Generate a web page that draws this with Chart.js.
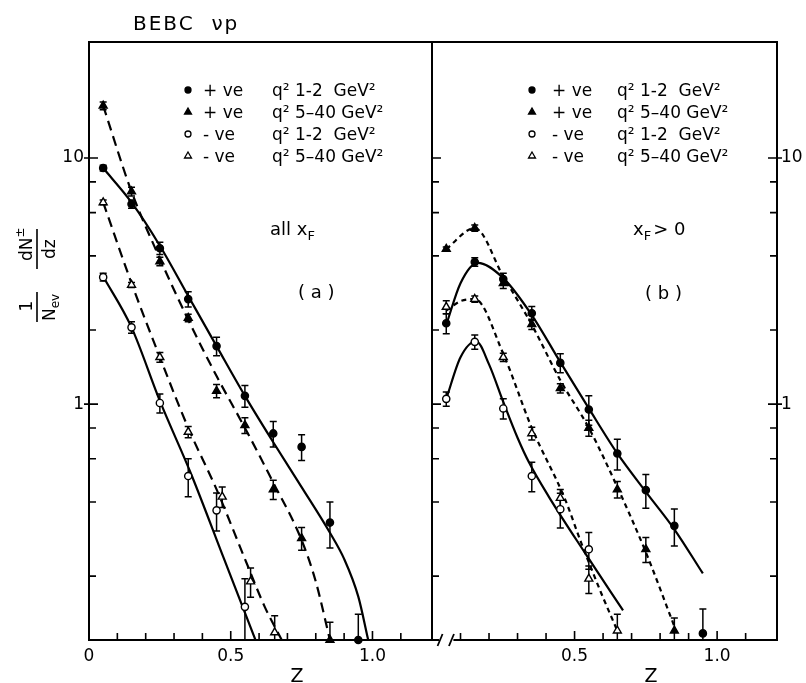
<!DOCTYPE html>
<html>
<head>
<meta charset="utf-8">
<script src="https://cdn.jsdelivr.net/npm/chart.js@4.4.0/dist/chart.umd.min.js"></script>
<style>
  body { margin: 0; background: #fff; }
  #quadro { position: relative; width: 806px; height: 683px; }
  #quadro canvas { position: absolute; left: 0; top: 0; }
</style>
</head>
<body>
<div id="quadro">
  <canvas id="painelA" width="806" height="683"></canvas>
  <canvas id="painelB" width="806" height="683"></canvas>
</div>
<script>
// Escalas e marcas dos eixos
const yMin = 0.11;
const yMax = 29.6;
const zMax = 1.21;
const yTicksRotulo = [1, 10];
const yTicksMenores = [0.2, 0.4, 0.6, 0.8, 2, 4, 6, 8];
const zTicksMenores = [0.1, 0.2, 0.3, 0.4, 0.6, 0.7, 0.8, 0.9, 1.1];
const zTicksRotuloA = [0, 0.5, 1.0];
const zTicksRotuloB = [0.5, 1.0];

// Legenda
const legCarga = ['+ ve', '+ ve', '- ve', '- ve'];
const legQ2 = ['q² 1-2  GeV²', 'q² 5–40 GeV²', 'q² 1-2  GeV²', 'q² 5–40 GeV²'];

// (a) todos os xF  -  + ve q² 1-2 (círculo cheio)
const aPosBaixoZ = [0.05, 0.15, 0.25, 0.35, 0.45, 0.55, 0.65, 0.75, 0.85, 0.95];
const aPosBaixo = [9.1, 6.5, 4.3, 2.67, 1.72, 1.08, 0.76, 0.67, 0.33, 0.11];
const aPosBaixoErr = [0.25, 0.25, 0.25, 0.19, 0.15, 0.11, 0.09, 0.08, 0.07, 0.03];
// + ve q² 5-40 (triângulo cheio)
const aPosAltoZ = [0.05, 0.15, 0.25, 0.35, 0.45, 0.55, 0.65, 0.75, 0.85];
const aPosAlto = [16.3, 7.3, 3.8, 2.24, 1.13, 0.82, 0.45, 0.285, 0.11];
const aPosAltoErr = [0.6, 0.3, 0.15, 0.08, 0.07, 0.06, 0.04, 0.03, 0.02];
// - ve q² 1-2 (círculo aberto)
const aNegBaixoZ = [0.05, 0.15, 0.25, 0.35, 0.45, 0.55];
const aNegBaixo = [3.28, 2.05, 1.01, 0.51, 0.37, 0.15];
const aNegBaixoErr = [0.12, 0.11, 0.09, 0.09, 0.065, 0.045];
// - ve q² 5-40 (triângulo aberto)
const aNegAltoZ = [0.05, 0.15, 0.25, 0.35, 0.47, 0.57, 0.655];
const aNegAlto = [6.6, 3.05, 1.55, 0.77, 0.42, 0.19, 0.118];
const aNegAltoErr = [0.15, 0.07, 0.07, 0.04, 0.04, 0.026, 0.02];

// curvas ajustadas (a)
const aPosBaixoCurvaZ = [0.05, 0.15, 0.25, 0.35, 0.45, 0.55, 0.65, 0.75, 0.85, 0.9, 0.95, 0.985];
const aPosBaixoCurva = [9.1, 6.6, 4.4, 2.75, 1.72, 1.08, 0.7, 0.46, 0.3, 0.235, 0.165, 0.11];
const aPosAltoCurvaZ = [0.05, 0.15, 0.25, 0.35, 0.45, 0.55, 0.65, 0.75, 0.8, 0.85];
const aPosAltoCurva = [16.3, 7.3, 3.9, 2.2, 1.3, 0.8, 0.48, 0.28, 0.19, 0.11];
const aNegBaixoCurvaZ = [0.05, 0.15, 0.25, 0.362, 0.475, 0.59];
const aNegBaixoCurva = [3.3, 2.05, 1.03, 0.514, 0.237, 0.108];
const aNegAltoCurvaZ = [0.05, 0.15, 0.25, 0.35, 0.45, 0.55, 0.62, 0.68];
const aNegAltoCurva = [6.6, 3.1, 1.55, 0.8, 0.45, 0.235, 0.15, 0.11];

// (b) xF > 0
const bPosBaixoZ = [0.05, 0.15, 0.25, 0.35, 0.45, 0.55, 0.65, 0.75, 0.85, 0.95];
const bPosBaixo = [2.13, 3.78, 3.22, 2.34, 1.47, 0.95, 0.63, 0.447, 0.32, 0.117];
const bPosBaixoErr = [0.2, 0.15, 0.18, 0.15, 0.13, 0.13, 0.09, 0.07, 0.055, 0.03];
const bPosAltoZ = [0.05, 0.15, 0.25, 0.35, 0.45, 0.55, 0.65, 0.75, 0.85];
const bPosAlto = [4.27, 5.19, 3.1, 2.11, 1.16, 0.8, 0.45, 0.257, 0.12];
const bPosAltoErr = [0.08, 0.15, 0.15, 0.1, 0.05, 0.06, 0.035, 0.03, 0.015];
const bNegBaixoZ = [0.05, 0.15, 0.25, 0.35, 0.45, 0.55];
const bNegBaixo = [1.05, 1.79, 0.96, 0.51, 0.374, 0.257];
const bNegBaixoErr = [0.07, 0.12, 0.09, 0.07, 0.06, 0.044];
const bNegAltoZ = [0.05, 0.15, 0.25, 0.35, 0.45, 0.55, 0.65];
const bNegAlto = [2.48, 2.67, 1.55, 0.76, 0.415, 0.195, 0.12];
const bNegAltoErr = [0.15, 0.08, 0.06, 0.045, 0.035, 0.025, 0.02];

// curvas ajustadas (b)
const bPosBaixoCurvaZ = [0.05, 0.1, 0.16, 0.25, 0.35, 0.45, 0.55, 0.65, 0.75, 0.85, 0.95];
const bPosBaixoCurva = [2.1, 3.1, 3.75, 3.25, 2.3, 1.48, 0.96, 0.63, 0.44, 0.31, 0.205];
const bPosAltoCurvaZ = [0.05, 0.15, 0.25, 0.35, 0.45, 0.55, 0.65, 0.75, 0.85];
const bPosAltoCurva = [4.27, 5.19, 3.3, 2.1, 1.25, 0.8, 0.46, 0.25, 0.125];
const bNegBaixoCurvaZ = [0.05, 0.1, 0.155, 0.2, 0.25, 0.3, 0.34, 0.41, 0.54, 0.67];
const bNegBaixoCurva = [1.05, 1.55, 1.8, 1.45, 1.02, 0.73, 0.58, 0.42, 0.245, 0.145];
const bNegAltoCurvaZ = [0.05, 0.1, 0.15, 0.25, 0.35, 0.465, 0.525, 0.594, 0.65];
const bNegAltoCurva = [2.4, 2.62, 2.67, 1.6, 0.8, 0.415, 0.27, 0.17, 0.12];

const fonte = '"DejaVu Sans", sans-serif';

const pontos = (zs, ys) => zs.map((z, i) => ({ x: z, y: ys[i] }));

const marcas = (zs, ys, erros, estilo, cheio) => ({
    data: pontos(zs, ys),
    yErr: erros,
    showLine: false,
    pointStyle: estilo,
    pointRadius: estilo === 'triangle' ? 4.6 : 3.6,
    pointBackgroundColor: cheio ? '#000' : '#fff',
    pointBorderColor: '#000',
    pointBorderWidth: 1.4,
    clip: false,
    order: 0
});

const curva = (zs, ys, traco) => ({
    data: pontos(zs, ys),
    showLine: true,
    pointRadius: 0,
    borderColor: '#000',
    borderWidth: 2.2,
    borderDash: traco,
    cubicInterpolationMode: 'monotone',
    order: 1
});

// desenha um símbolo da legenda
function desenhaMarca(ctx, estilo, cheio, x, y, r) {
    ctx.beginPath();
    if (estilo === 'circle') {
        ctx.arc(x, y, r, 0, Math.PI * 2);
    } else {
        ctx.moveTo(x, y - r);
        ctx.lineTo(x + r * 0.87, y + r * 0.5);
        ctx.lineTo(x - r * 0.87, y + r * 0.5);
        ctx.closePath();
    }
    ctx.fillStyle = cheio ? '#000' : '#fff';
    ctx.fill();
    ctx.lineWidth = 1.3;
    ctx.strokeStyle = '#000';
    ctx.stroke();
}

// texto em partes (para índices e expoentes)
function textoPartes(ctx, partes, x, y) {
    let cx = x;
    partes.forEach(p => {
        ctx.font = p.tam + 'px ' + fonte;
        ctx.fillText(p.t, cx, y + (p.dy || 0));
        cx += ctx.measureText(p.t).width + (p.esp || 0);
    });
}

const simbolos = [['circle', true], ['triangle', true], ['circle', false], ['triangle', false]];

const moldura = {
    id: 'moldura',
    beforeDatasetsDraw(chart) {
        const { ctx, chartArea: a, scales: { y } } = chart;
        ctx.save();
        ctx.strokeStyle = '#000';
        ctx.lineWidth = 1.5;
        chart.data.datasets.forEach((ds, i) => {
            if (!ds.yErr) return;
            chart.getDatasetMeta(i).data.forEach((el, j) => {
                const v = ds.data[j].y;
                const e = ds.yErr[j];
                const topo = y.getPixelForValue(v + e);
                const base = Math.min(a.bottom, y.getPixelForValue(Math.max(v - e, yMin * 0.9)));
                ctx.beginPath();
                ctx.moveTo(el.x, topo);
                ctx.lineTo(el.x, base);
                ctx.moveTo(el.x - 3.5, topo);
                ctx.lineTo(el.x + 3.5, topo);
                if (base < a.bottom - 1) {
                    ctx.moveTo(el.x - 3.5, base);
                    ctx.lineTo(el.x + 3.5, base);
                }
                ctx.stroke();
            });
        });
        ctx.restore();
    },
    afterDraw(chart, args, opts) {
        const { ctx, chartArea: a, scales: { x, y } } = chart;
        const painel = opts.painel;
        ctx.save();
        ctx.strokeStyle = '#000';
        ctx.fillStyle = '#000';
        ctx.lineWidth = 2;
        ctx.lineCap = 'butt';

        // moldura
        ctx.beginPath();
        ctx.moveTo(a.left, a.bottom);
        ctx.lineTo(a.left, a.top);
        ctx.lineTo(a.right, a.top);
        ctx.lineTo(a.right, a.bottom);
        if (painel === 'a') {
            ctx.lineTo(a.left - 1, a.bottom);
        } else {
            ctx.lineTo(x.getPixelForValue(0.075), a.bottom);
            ctx.moveTo(x.getPixelForValue(0.025), a.bottom);
            ctx.lineTo(a.left - 1, a.bottom);
        }
        ctx.stroke();

        // quebra do eixo z no painel (b)
        if (painel === 'b') {
            ctx.lineWidth = 1.8;
            [0.03, 0.07].forEach(q => {
                const px = x.getPixelForValue(q);
                ctx.beginPath();
                ctx.moveTo(px - 3, a.bottom + 6);
                ctx.lineTo(px + 2, a.bottom - 6);
                ctx.stroke();
            });
        }

        // marcas dos eixos (para dentro)
        ctx.lineWidth = 1.6;
        ctx.beginPath();
        const bordasY = painel === 'a' ? [[a.left, 1]] : [[a.left, 1], [a.right, -1]];
        bordasY.forEach(([bx, sentido]) => {
            yTicksMenores.forEach(v => {
                const py = y.getPixelForValue(v);
                ctx.moveTo(bx, py);
                ctx.lineTo(bx + sentido * 7, py);
            });
            yTicksRotulo.forEach(v => {
                const py = y.getPixelForValue(v);
                const fora = (painel === 'a' || sentido === -1) ? 5 : 0;
                ctx.moveTo(bx - sentido * fora, py);
                ctx.lineTo(bx + sentido * 9, py);
            });
        });
        zTicksMenores.concat([0.5, 1.0]).forEach(v => {
            const px = x.getPixelForValue(v);
            const comp = (v === 0.5 || v === 1.0) ? 9 : 7;
            ctx.moveTo(px, a.bottom);
            ctx.lineTo(px, a.bottom - comp);
        });
        ctx.stroke();

        // textos
        ctx.textBaseline = 'alphabetic';
        ctx.textAlign = 'left';
        const legX = painel === 'a' ? [188, 203, 272] : [532, 552, 617];
        const legY = [90, 112, 134, 156];
        simbolos.forEach((s, i) => {
            desenhaMarca(ctx, s[0], s[1], legX[0], legY[i], s[0] === 'circle' ? 3 : 4);
            ctx.fillStyle = '#000';
            ctx.font = '17px ' + fonte;
            ctx.fillText(legCarga[i], legX[1], legY[i] + 6);
            ctx.fillText(legQ2[i], legX[2], legY[i] + 6);
        });

        ctx.fillStyle = '#000';
        if (painel === 'a') {
            ctx.font = '20px ' + fonte;
            if ('letterSpacing' in ctx) ctx.letterSpacing = '2px';
            ctx.fillText('BEBC  νp', 133, 30);
            if ('letterSpacing' in ctx) ctx.letterSpacing = '0px';
            textoPartes(ctx, [{ t: 'all x', tam: 18 }, { t: 'F', tam: 13, dy: 5 }], 270, 235);
            ctx.font = '18px ' + fonte;
            ctx.fillText('( a )', 298, 298);
            ctx.font = '19px ' + fonte;
            ctx.textAlign = 'center';
            ctx.fillText('Z', 297, 682);

            // título do eixo y, girado
            ctx.save();
            ctx.translate(37, 273);
            ctx.rotate(-Math.PI / 2);
            ctx.textAlign = 'center';
            ctx.font = '17px ' + fonte;
            ctx.fillText('1', -33, -5);
            ctx.textAlign = 'left';
            textoPartes(ctx, [{ t: 'N', tam: 17 }, { t: 'ev', tam: 12, dy: 4 }], -48, 18);
            textoPartes(ctx, [{ t: 'dN', tam: 17 }, { t: '±', tam: 12, dy: -8 }], 12, -5);
            textoPartes(ctx, [{ t: 'dz', tam: 17 }], 14, 18);
            ctx.lineWidth = 1.6;
            ctx.beginPath();
            ctx.moveTo(-49, 0); ctx.lineTo(-19, 0);
            ctx.moveTo(4, 0); ctx.lineTo(44, 0);
            ctx.stroke();
            ctx.restore();
        } else {
            textoPartes(ctx, [{ t: 'x', tam: 18 }, { t: 'F', tam: 13, dy: 5, esp: 2 }, { t: '> 0', tam: 18 }], 633, 235);
            ctx.font = '18px ' + fonte;
            ctx.fillText('( b )', 645, 299);
            ctx.font = '19px ' + fonte;
            ctx.textAlign = 'center';
            ctx.fillText('Z', 651, 682);
        }
        ctx.restore();
    }
};

const escalas = (painel) => ({
    x: {
        type: 'linear',
        min: 0,
        max: zMax,
        grid: { display: false, drawTicks: false },
        border: { display: false },
        afterBuildTicks: s => { s.ticks = (painel === 'a' ? zTicksRotuloA : zTicksRotuloB).map(v => ({ value: v })); },
        afterFit: s => { s.height = 43; },
        ticks: {
            autoSkip: false, maxRotation: 0, padding: 6, color: '#000',
            font: { family: fonte, size: 17 },
            callback: v => v === 0 ? '0' : Number(v).toFixed(1)
        }
    },
    y: {
        type: 'logarithmic',
        position: painel === 'a' ? 'left' : 'right',
        min: yMin,
        max: yMax,
        grid: { display: false, drawTicks: false },
        border: { display: false },
        afterBuildTicks: s => { s.ticks = yTicksRotulo.map(v => ({ value: v })); },
        afterFit: s => { s.width = painel === 'a' ? 89 : 29; },
        ticks: {
            autoSkip: false, padding: painel === 'a' ? 5 : 4, color: '#000',
            font: { family: fonte, size: 17 },
            callback: v => String(v)
        }
    }
});

const opcoes = (painel) => ({
    responsive: false,
    animation: false,
    layout: { padding: painel === 'a' ? { left: 0, right: 374, top: 42, bottom: 0 } : { left: 432, right: 0, top: 42, bottom: 0 } },
    plugins: { legend: { display: false }, tooltip: { enabled: false }, moldura: { painel: painel } },
    scales: escalas(painel)
});

const tracoLongo = [10, 6];
const tracoCurto = [5, 4];

new Chart(document.getElementById('painelA').getContext('2d'), {
    type: 'scatter',
    data: {
        datasets: [
            marcas(aPosBaixoZ, aPosBaixo, aPosBaixoErr, 'circle', true),
            marcas(aPosAltoZ, aPosAlto, aPosAltoErr, 'triangle', true),
            marcas(aNegBaixoZ, aNegBaixo, aNegBaixoErr, 'circle', false),
            marcas(aNegAltoZ, aNegAlto, aNegAltoErr, 'triangle', false),
            curva(aPosBaixoCurvaZ, aPosBaixoCurva, []),
            curva(aPosAltoCurvaZ, aPosAltoCurva, tracoLongo),
            curva(aNegBaixoCurvaZ, aNegBaixoCurva, []),
            curva(aNegAltoCurvaZ, aNegAltoCurva, tracoLongo)
        ]
    },
    options: opcoes('a'),
    plugins: [moldura]
});

new Chart(document.getElementById('painelB').getContext('2d'), {
    type: 'scatter',
    data: {
        datasets: [
            marcas(bPosBaixoZ, bPosBaixo, bPosBaixoErr, 'circle', true),
            marcas(bPosAltoZ, bPosAlto, bPosAltoErr, 'triangle', true),
            marcas(bNegBaixoZ, bNegBaixo, bNegBaixoErr, 'circle', false),
            marcas(bNegAltoZ, bNegAlto, bNegAltoErr, 'triangle', false),
            curva(bPosBaixoCurvaZ, bPosBaixoCurva, []),
            curva(bPosAltoCurvaZ, bPosAltoCurva, tracoCurto),
            curva(bNegBaixoCurvaZ, bNegBaixoCurva, []),
            curva(bNegAltoCurvaZ, bNegAltoCurva, tracoCurto)
        ]
    },
    options: opcoes('b'),
    plugins: [moldura]
});
</script>
</body>
</html>
